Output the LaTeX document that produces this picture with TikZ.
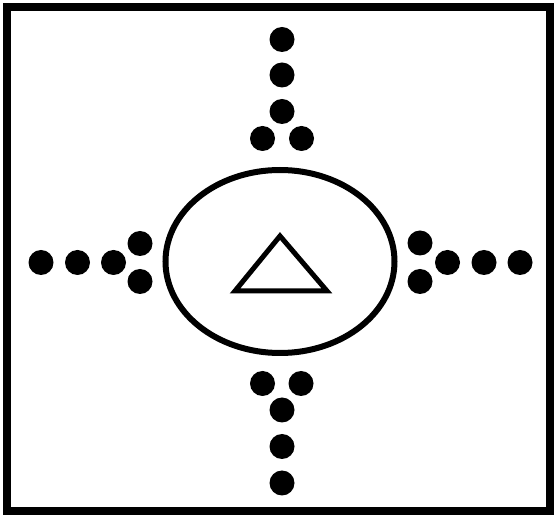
\documentclass[tikz,border=0pt]{standalone}
\usetikzlibrary{shapes.geometric}
\begin{document}
\begin{tikzpicture}[x=1pt,y=-1pt,
  dot/.style={circle,fill=black,inner sep=0pt,minimum size=25pt},
  frame/.style={draw=black,line width=8pt},
  ring/.style={draw=black,line width=6pt},
  tri/.style={draw=black,line width=5pt,line join=miter}]
\useasboundingbox (0,0) rectangle (555,518);
\fill[white] (0,0) rectangle (555,518);
\draw[frame] (6.5,7) rectangle (549.5,511.5);
% central ellipse
\draw[ring] (280,261.5) ellipse [x radius=114.5, y radius=91.5];
% triangle
\coordinate (ta) at (280,236);
\coordinate (tl) at (235,291);
\coordinate (tr) at (327,291);
\draw[tri] (ta) -- (tl) -- (tr) -- cycle;
% top dots
\node[dot] (t1) at (282,39.5) {};
\node[dot] (t2) at (282,75) {};
\node[dot] (t3) at (282,111.5) {};
\node[dot] (t4) at (262.5,138.5) {};
\node[dot] (t5) at (301.5,138.5) {};
% bottom dots
\node[dot] (b1) at (262.5,383.5) {};
\node[dot] (b2) at (301,383.5) {};
\node[dot] (b3) at (282,410) {};
\node[dot] (b4) at (282,446.5) {};
\node[dot] (b5) at (282,483) {};
% left dots
\node[dot] (l1) at (41,262.5) {};
\node[dot] (l2) at (77.5,262.5) {};
\node[dot] (l3) at (113.5,262.5) {};
\node[dot] (l4) at (140,243.5) {};
\node[dot] (l5) at (140,281.5) {};
% right dots
\node[dot] (r1) at (420,243) {};
\node[dot] (r2) at (420,281.5) {};
\node[dot] (r3) at (447.5,262.5) {};
\node[dot] (r4) at (484,262.5) {};
\node[dot] (r5) at (520,262.5) {};
\end{tikzpicture}
\end{document}
